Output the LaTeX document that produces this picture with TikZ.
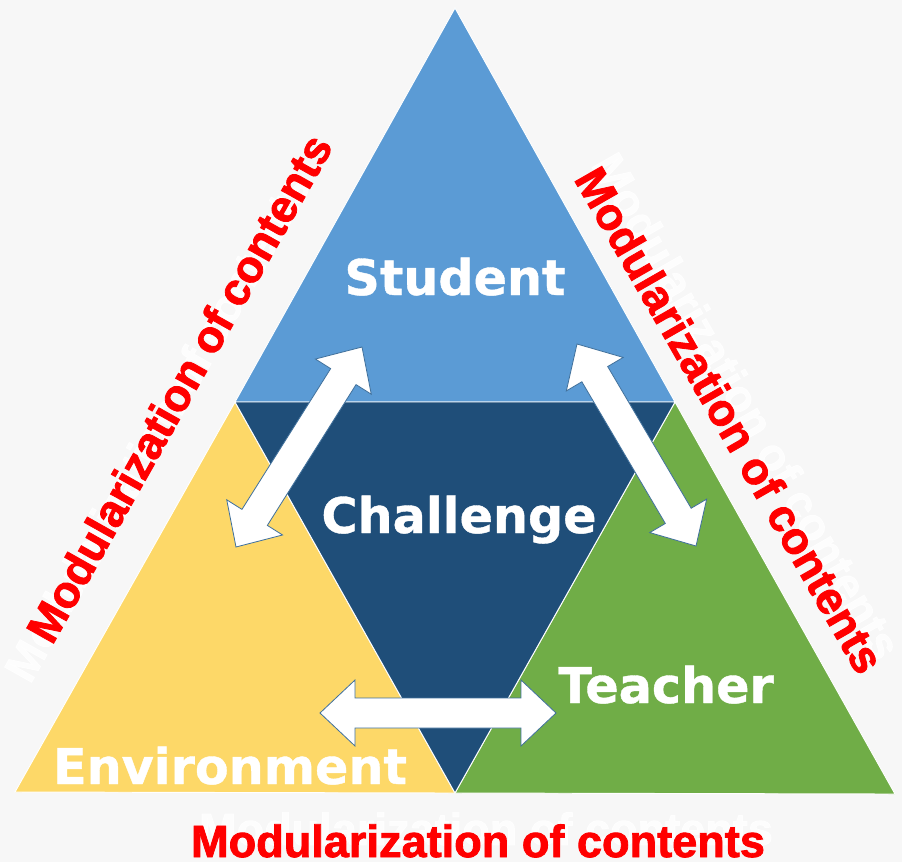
\documentclass[tikz,border=0pt]{standalone}
\usepackage{fontspec}
\setmainfont{Liberation Sans}
\newfontfamily\boxfont{DejaVu Sans}[FakeBold=0.8]
\newfontfamily\modfont{Liberation Sans}[FakeBold=1.8]
\usetikzlibrary{calc}
\definecolor{bgrey}{HTML}{F7F7F7}
\definecolor{sblue}{HTML}{5B9BD5}
\definecolor{cnavy}{HTML}{1F4E79}
\definecolor{eyellow}{HTML}{FDD868}
\definecolor{tgreen}{HTML}{70AD47}
\definecolor{aedge}{HTML}{41719C}
% fat double arrow between two named points
\newcommand{\headlen}{1.05cm}
\newcommand{\headhalf}{0.99cm}
\newcommand{\shafthalf}{0.45cm}
\newcommand{\twoway}[2]{%
\draw[dblarrow] (#1) -- ($(#1)!\headlen!(#2)!\headhalf!90:(#2)$) -- ($(#1)!\headlen!(#2)!\shafthalf!90:(#2)$)
 -- ($(#2)!\headlen!(#1)!\shafthalf!-90:(#1)$) -- ($(#2)!\headlen!(#1)!\headhalf!-90:(#1)$) -- (#2)
 -- ($(#2)!\headlen!(#1)!\headhalf!90:(#1)$) -- ($(#2)!\headlen!(#1)!\shafthalf!90:(#1)$)
 -- ($(#1)!\headlen!(#2)!\shafthalf!-90:(#2)$) -- ($(#1)!\headlen!(#2)!\headhalf!-90:(#2)$) -- cycle;}
\begin{document}
\begin{tikzpicture}[x=0.03cm,y=-0.03cm,
  part/.style={draw=white,line width=0.8pt,line join=miter},
  dblarrow/.style={draw=aedge,fill=white,line width=0.7pt,line join=miter},
  who/.style={text=white,inner sep=0pt,anchor=base,font=\boxfont\bfseries\fontsize{42}{42}\selectfont},
  modtxt/.style={text=red,inner sep=0pt,anchor=base,font=\modfont\bfseries\fontsize{38.5}{38.5}\selectfont},
  ghost/.style={modtxt,text=white,opacity=0.85}]
\fill[bgrey] (0,0) rectangle (902,862);
\useasboundingbox (0,0) rectangle (902,862);
\coordinate (A) at (455,8);
\coordinate (L) at (235,402);
\coordinate (R) at (675,402);
\coordinate (BL) at (15,792);
\coordinate (BM) at (455,793);
\coordinate (BR) at (895,794);
% the four triangles
\draw[part,fill=sblue] (A) -- (R) -- (L) -- cycle;
\draw[part,fill=eyellow] (L) -- (BM) -- (BL) -- cycle;
\draw[part,fill=tgreen] (R) -- (BR) -- (BM) -- cycle;
\draw[part,fill=cnavy] (L) -- (R) -- (BM) -- cycle;
% arrows
\coordinate (s1) at (362,347);
\coordinate (e1) at (236,547);
\coordinate (s2) at (577,344);
\coordinate (t2) at (696,546);
\coordinate (e3) at (320,713);
\coordinate (t3) at (556,713);
\twoway{s1}{e1}
\twoway{s2}{t2}
\twoway{e3}{t3}
% labels
\node[who] (student) at (455,295) {Student};
\node[who] (challenge) at (459,533) {Challenge};
\node[who] (teacher) at (666,703) {Teacher};
\node[who] (environment) at (230,784) {Environment};
\node[ghost,rotate=60.6] (ghostleft) at (171,435) {Modularization of contents};
\node[ghost,rotate=-60.2] (ghostright) at (733,414) {Modularization of contents};
\node[ghost] (ghostbottom) at (486,845) {Modularization of contents};
\node[modtxt,rotate=60.6] (modleft) at (193,396) {Modularization of contents};
\node[modtxt,rotate=-60.2] (modright) at (716,428) {Modularization of contents};
\node[modtxt] (modbottom) at (478,857) {Modularization of contents};
\end{tikzpicture}
\end{document}
